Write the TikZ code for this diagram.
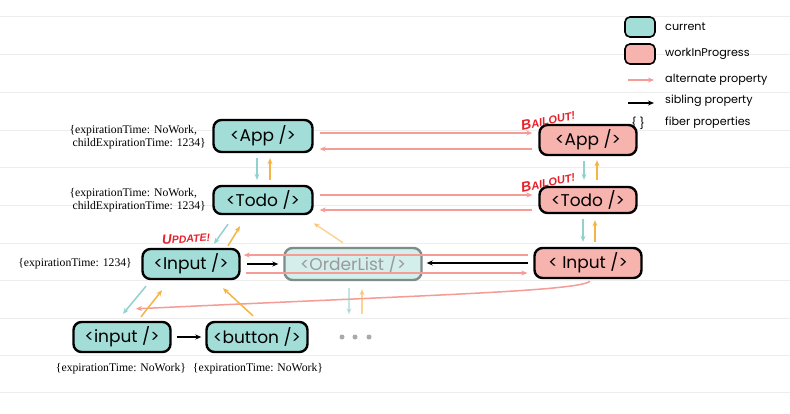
\documentclass[tikz,border=0pt]{standalone}
\usepackage{fontspec}
\setmainfont{Liberation Serif}
\newfontfamily\nodefont{Poppins}
\newfontfamily\tagfont{Liberation Sans}
\usetikzlibrary{arrows.meta,calc}
\definecolor{curfill}{HTML}{A3DDD8}
\definecolor{wipfill}{HTML}{F7B3AE}
\definecolor{altc}{HTML}{F49C95}
\definecolor{childc}{HTML}{92D2CE}
\definecolor{retc}{HTML}{F5B545}
\definecolor{gridc}{HTML}{EDEDED}
\definecolor{redtag}{HTML}{E8202A}
\definecolor{olgray}{HTML}{7E8C8A}
\definecolor{olfill}{HTML}{D3EEEB}
\definecolor{oltext}{HTML}{9A9A9A}
\definecolor{dotc}{HTML}{AAAAAA}
\begin{document}
\begin{tikzpicture}[x=1pt,y=-1pt,
 fib/.style={draw=black,line width=2.4pt,rounded corners=8pt,minimum height=30pt,inner sep=0pt,font=\nodefont\fontsize{17}{17}\selectfont},
 cur/.style={fib,fill=curfill},
 wip/.style={fib,fill=wipfill},
 tip/.style={-{Stealth[length=6pt,width=5pt]}},
 alt/.style={draw=altc,line width=1.5pt,tip},
 sib/.style={draw=black,line width=1.4pt,tip},
 chd/.style={draw=childc,line width=1.5pt,tip},
 ret/.style={draw=retc,line width=1.5pt,tip},
 prop/.style={font=\fontsize{11.7}{13.5}\selectfont,align=left,inner sep=0pt},
 leg/.style={font=\nodefont\fontsize{11.2}{11}\selectfont,anchor=west,inner sep=0pt},
 tag/.style={font=\tagfont\bfseries\itshape,text=redtag,inner sep=0pt},
 legbox/.style={line width=1.6pt,rounded corners=5pt,minimum width=30pt,minimum height=20pt}
]
\fill[white] (0,0) rectangle (790,413);
\path[use as bounding box] (0,0) rectangle (790,413);
\foreach \yy in {16,54,92,130,167,205,243,280,318,355,392}
  \draw[gridc,line width=0.8pt] (0,\yy) -- (790,\yy);

% nodes
\node[cur,minimum width=99pt,minimum height=32pt] (appC) at (263,136) {<App />};
\node[cur,minimum width=99pt,minimum height=28pt] (todoC) at (263,200) {<Todo />};
\node[cur,minimum width=97pt] (inputC) at (191,264) {<Input />};
\node[fib,draw=olgray,fill=olfill,text=oltext,minimum width=137pt,minimum height=32pt] (orderL) at (353,264) {<OrderList />};
\node[cur,minimum width=97pt] (inputL) at (122,337) {<input />};
\node[cur,minimum width=101pt] (buttonL) at (257,337) {<button />};
\node[wip,minimum width=97pt] (appW) at (588,140) {<App />};
\node[wip,minimum width=97pt,minimum height=26pt] (todoW) at (588,200) {<Todo />};
\node[wip,minimum width=107pt] (inputW) at (588,263) {< Input />};

\foreach \xx/\nm in {342/d1,355/d2,369/d3}
  \fill[dotc] (\xx,337) circle (2.5pt);

% alternate
\coordinate (a1) at ($(appC.east)+(6,-3)$);
\draw[alt,shorten >=6pt] (a1) -- (a1 -| appW.west);
\coordinate (a2) at ($(appW.west)+(-6,9)$);
\draw[alt,shorten >=6pt] (a2) -- (a2 -| appC.east);
\coordinate (t1) at ($(todoC.east)+(6,-5)$);
\draw[alt,shorten >=6pt] (t1) -- (t1 -| todoW.west);
\coordinate (t2) at ($(todoW.west)+(-6,10)$);
\draw[alt,shorten >=6pt] (t2) -- (t2 -| todoC.east);
\coordinate (i1) at ($(inputW.west)+(-5,-8)$);
\draw[alt,shorten >=3pt] (i1) -- (i1 -| inputC.east);
\coordinate (i2) at ($(inputC.east)+(5,9)$);
\draw[alt,shorten >=6pt] (i2) -- (i2 -| inputW.west);
\draw[alt] ($(inputW.south)+(2,2)$) .. controls ($(inputW.south)+(-10,12)$) and (430,295) .. ($(inputL.north)+(14,-12)$);

% sibling
\draw[sib,shorten <=6pt,shorten >=5pt] (inputC.east) -- (orderL.west);
\draw[sib,shorten <=5pt,shorten >=4pt] (inputW.west) -- (inputW.west -| orderL.east);
\draw[sib,shorten <=5pt,shorten >=4pt] (inputL.east) -- (buttonL.west);

% child / return
\draw[chd] ($(appC.south)+(-6,5)$) -- ($(todoC.north)+(-6,-5)$);
\draw[ret] ($(todoC.north)+(7,-5)$) -- ($(appC.south)+(7,5)$);
\draw[chd] ($(todoC.south)+(-35,9)$) -- ($(inputC.north)+(23,-4)$);
\draw[ret] ($(inputC.north)+(37,-2)$) -- ($(todoC.south)+(-23,11)$);
\draw[ret,opacity=0.55] ($(orderL.north)+(-10,-4)$) -- ($(todoC.south east)+(0,8)$);
\draw[chd] ($(appW.south)+(-4,5)$) -- ($(todoW.north)+(-4,-6)$);
\draw[ret] ($(todoW.north)+(9,-6)$) -- ($(appW.south)+(9,4)$);
\draw[chd] ($(todoW.south)+(-5,5)$) -- ($(inputW.north)+(-5,-5)$);
\draw[ret] ($(inputW.north)+(7,-5)$) -- ($(todoW.south)+(7,6)$);
\draw[chd] ($(inputC.south)+(-45,6)$) -- ($(inputL.north)+(1,-7)$);
\draw[ret] ($(inputL.north)+(19,-4)$) -- ($(inputC.south)+(-29,10)$);
\draw[ret] ($(buttonL.north)+(-4,-5)$) -- ($(inputC.south)+(32,8)$);
\draw[chd,opacity=0.55] ($(orderL.south)+(-4,7)$) -- ($(orderL.south)+(-4,33)$);
\draw[ret,opacity=0.55] ($(orderL.south)+(9,33)$) -- ($(orderL.south)+(9,8)$);

% properties
\node[prop,anchor=east] (pApp) at (206,137) {\{expirationTime: NoWork,\\ \hspace{3pt}childExpirationTime: 1234\}};
\node[prop,anchor=east] (pTodo) at (206,200) {\{expirationTime: NoWork,\\ \hspace{3pt}childExpirationTime: 1234\}};
\node[prop,anchor=east] (pInput) at (132,264) {\{expirationTime: 1234\}};
\node[prop] (pinput) at (121,369) {\{expirationTime: NoWork\}};
\node[prop] (pbutton) at (258,369) {\{expirationTime: NoWork\}};

% tags
\node[tag,rotate=12] (tb1) at (548,120) {{\fontsize{14}{14}\selectfont B}{\fontsize{11}{11}\selectfont AILOUT!}};
\node[tag,rotate=12] (tb2) at (548,182) {{\fontsize{14}{14}\selectfont B}{\fontsize{11}{11}\selectfont AILOUT!}};
\node[tag,rotate=4] (tu) at (186,238) {{\fontsize{13.5}{13.5}\selectfont U}{\fontsize{10.5}{10.5}\selectfont PDATE!}};

% legend
\node[cur,legbox] (lc) at (640,27) {};
\node[leg] (lct) at (665,27) {current};
\node[wip,legbox] (lw) at (640,54) {};
\node[leg] (lwt) at (665,54) {workInProgress};
\coordinate (la1) at (628,80);
\coordinate (la2) at (654,80);
\draw[alt] (la1) -- (la2);
\node[leg] (lat) at (665,80) {alternate property};
\coordinate (ls1) at (628,103);
\coordinate (ls2) at (654,103);
\draw[sib] (ls1) -- (ls2);
\node[leg] (lst) at (665,101) {sibling property};
\node[leg,anchor=center] (lf) at (638,123) {\{ \}};
\node[leg] (lft) at (665,123) {fiber properties};
\end{tikzpicture}
\end{document}
